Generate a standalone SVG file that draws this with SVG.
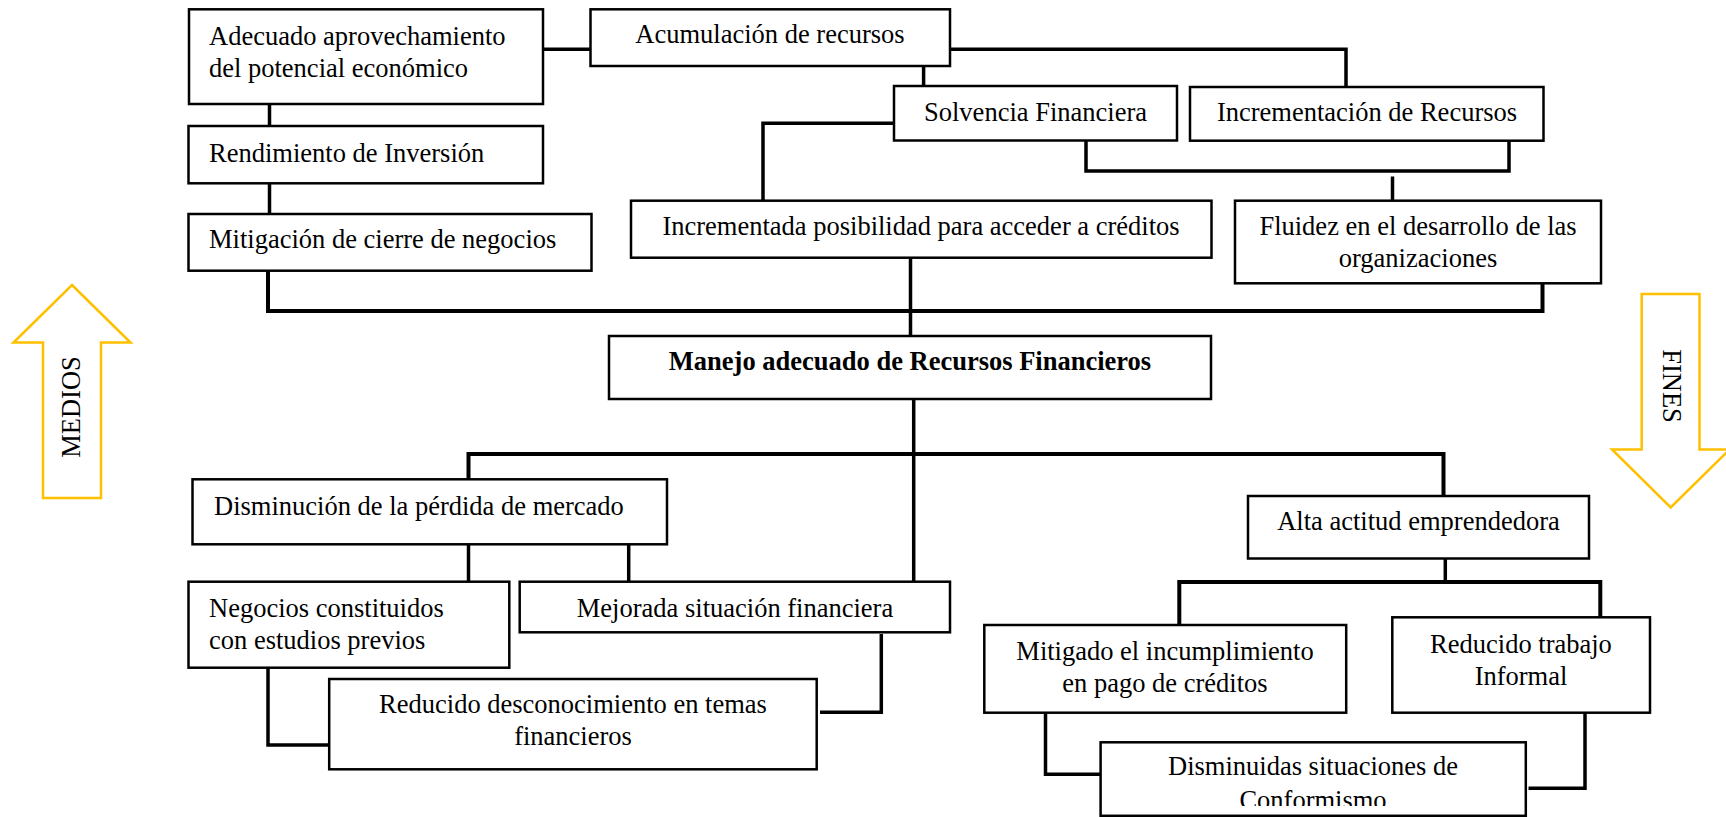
<svg xmlns="http://www.w3.org/2000/svg" width="1726" height="817" viewBox="0 0 1726 817">
<style>
.box{fill:#ffffff;stroke:#000000;stroke-width:2.5}
.t{font-family:"Liberation Serif","Times New Roman",serif;font-size:26.5px;fill:#000000}
.c{text-anchor:middle}
.b{font-weight:bold}
.conn{fill:none;stroke:#000000;stroke-width:3.5;stroke-linejoin:miter}
.bar{stroke-width:4}
.arrow{fill:#ffffff;stroke:#FFC000;stroke-width:2.5;stroke-linejoin:miter}
</style>
<defs>
<clipPath id="clipDism"><rect x="1100" y="742" width="426" height="64"/></clipPath>
</defs>
<rect x="0" y="0" width="1726" height="817" fill="#ffffff"/>

<g id="connectors">
<line class="conn" x1="543" y1="49.3" x2="590.5" y2="49.3"/>
<polyline class="conn" points="950,49.3 1346,49.3 1346,87"/>
<line class="conn" x1="923.6" y1="66" x2="923.6" y2="86"/>
<polyline class="conn" points="894,123.3 763,123.3 763,200.7"/>
<polyline class="conn" points="1086,140.5 1086,171 1509,171 1509,138"/>
<line class="conn" x1="1392.5" y1="176.5" x2="1392.5" y2="200.7"/>
<line class="conn" x1="269.5" y1="104" x2="269.5" y2="126"/>
<line class="conn" x1="269.5" y1="183.3" x2="269.5" y2="214"/>
<polyline class="conn bar" points="268,270.7 268,311 1542.5,311 1542.5,283.3"/>
<line class="conn" x1="910.5" y1="257.7" x2="910.5" y2="336"/>
<line class="conn" x1="913.7" y1="399" x2="913.7" y2="581.7"/>
<polyline class="conn bar" points="468.5,479.3 468.5,454 1443.5,454 1443.5,496"/>
<line class="conn" x1="468.5" y1="544.3" x2="468.5" y2="581.7"/>
<line class="conn" x1="628.7" y1="544.3" x2="628.7" y2="581.7"/>
<polyline class="conn" points="268,667.7 268,745 329.2,745"/>
<polyline class="conn" points="881.3,634 881.3,712.3 820,712.3"/>
<line class="conn" x1="1445.3" y1="558.5" x2="1445.3" y2="582"/>
<polyline class="conn bar" points="1179.3,625 1179.3,582 1600.3,582 1600.3,617.3"/>
<polyline class="conn" points="1045.5,712.7 1045.5,774.3 1100.6,774.3"/>
<polyline class="conn" points="1585,712.7 1585,788.3 1528.5,788.3"/>
</g>

<g id="arrow-medios">
<polygon class="arrow" points="72,285 130.5,342.5 101,342.5 101,498 43,498 43,342.5 13.5,342.5"/>
<text class="t c" transform="translate(80,407) rotate(-90)">MEDIOS</text>
</g>

<g id="arrow-fines">
<polygon class="arrow" points="1641.7,294 1699.5,294 1699.5,449.5 1729.5,449.5 1670.7,507.5 1612,449.5 1641.7,449.5"/>
<text class="t c" transform="translate(1663,386) rotate(90)">FINES</text>
</g>

<g id="n-adecuado">
<rect class="box" x="189" y="9.3" width="354" height="94.7"/>
<text class="t" x="209" y="45">Adecuado aprovechamiento</text>
<text class="t" x="209" y="77">del potencial económico</text>
</g>

<g id="n-acumulacion">
<rect class="box" x="590.5" y="9.3" width="359.5" height="56.7"/>
<text class="t c" x="770" y="43">Acumulación de recursos</text>
</g>

<g id="n-rendimiento">
<rect class="box" x="188.5" y="126" width="354.5" height="57.3"/>
<text class="t" x="209" y="161.5">Rendimiento de Inversión</text>
</g>

<g id="n-mitigacion">
<rect class="box" x="188.5" y="214" width="403" height="56.7"/>
<text class="t" x="209" y="248">Mitigación de cierre de negocios</text>
</g>

<g id="n-solvencia">
<rect class="box" x="894" y="86" width="283" height="54.5"/>
<text class="t c" x="1035.5" y="120.5">Solvencia Financiera</text>
</g>

<g id="n-incrementacion">
<rect class="box" x="1190" y="87" width="353.5" height="53.7"/>
<text class="t c" x="1367" y="120.5">Incrementación de Recursos</text>
</g>

<g id="n-incrementada">
<rect class="box" x="631" y="200.7" width="580.5" height="57"/>
<text class="t c" x="921" y="235">Incrementada posibilidad para acceder a créditos</text>
</g>

<g id="n-fluidez">
<rect class="box" x="1235" y="200.7" width="366" height="82.6"/>
<text class="t c" x="1418" y="235">Fluidez en el desarrollo de las</text>
<text class="t c" x="1418" y="266.7">organizaciones</text>
</g>

<g id="n-manejo">
<rect class="box" x="609" y="336" width="602" height="63"/>
<text class="t c b" x="910" y="370">Manejo adecuado de Recursos Financieros</text>
</g>

<g id="n-disminucion">
<rect class="box" x="192.5" y="479.3" width="474.5" height="65"/>
<text class="t" x="214" y="515">Disminución de la pérdida de mercado</text>
</g>

<g id="n-negocios">
<rect class="box" x="188.5" y="581.7" width="320.8" height="86"/>
<text class="t" x="209" y="616.7">Negocios constituidos</text>
<text class="t" x="209" y="649.3">con estudios previos</text>
</g>

<g id="n-mejorada">
<rect class="box" x="519.7" y="581.7" width="430.3" height="50.6"/>
<text class="t c" x="735" y="616.7">Mejorada situación financiera</text>
</g>

<g id="n-reducido-desconocimiento">
<rect class="box" x="329.2" y="679" width="487.5" height="90.3"/>
<text class="t c" x="573" y="713.3">Reducido desconocimiento en temas</text>
<text class="t c" x="573" y="745">financieros</text>
</g>

<g id="n-alta">
<rect class="box" x="1248" y="496" width="341" height="62.5"/>
<text class="t c" x="1418.5" y="530">Alta actitud emprendedora</text>
</g>

<g id="n-mitigado">
<rect class="box" x="984.3" y="625" width="361.9" height="87.7"/>
<text class="t c" x="1165" y="660">Mitigado el incumplimiento</text>
<text class="t c" x="1165" y="691.7">en pago de créditos</text>
</g>

<g id="n-reducido-trabajo">
<rect class="box" x="1392.3" y="617.3" width="257.7" height="95.4"/>
<text class="t c" x="1521" y="653">Reducido trabajo</text>
<text class="t c" x="1521" y="685">Informal</text>
</g>

<g id="n-disminuidas">
<rect class="box" x="1100.6" y="742.3" width="425.2" height="73.5"/>
<text class="t c" x="1313" y="775">Disminuidas situaciones de</text>
<text class="t c" x="1313" y="809" clip-path="url(#clipDism)">Conformismo</text>
</g>
</svg>
